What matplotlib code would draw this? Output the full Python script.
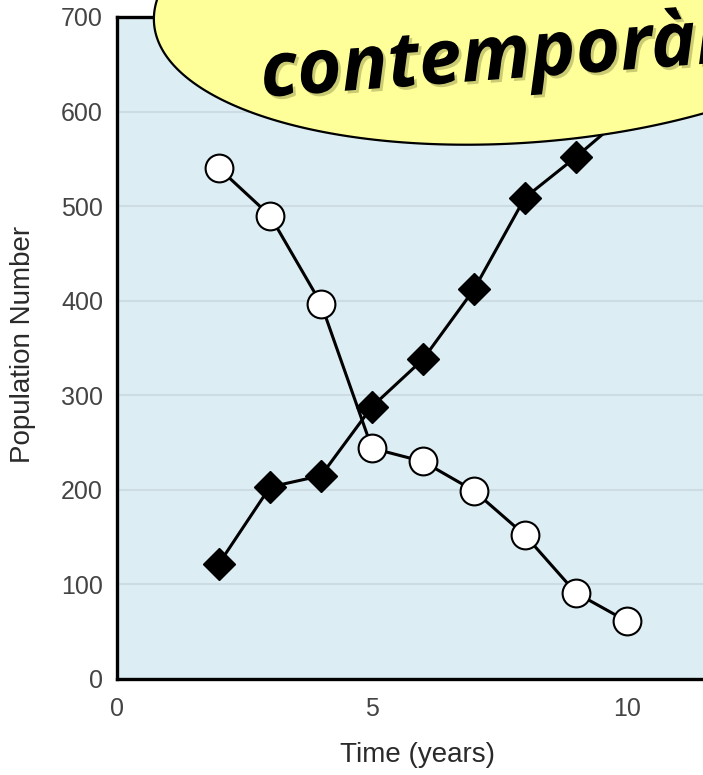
import numpy as np
import matplotlib
matplotlib.use('Agg')
import matplotlib.pyplot as plt
import matplotlib.patheffects as pe
from matplotlib.patches import Polygon

# data
years = [2, 3, 4, 5, 6, 7, 8, 9, 10]
pop_open = [540, 490, 397, 244, 230, 199, 152, 91, 61]
pop_filled = [122, 203, 215, 288, 338, 412, 509, 552, 598]
y_ticks = [0, 100, 200, 300, 400, 500, 600, 700]
x_ticks = [0, 5, 10]
bubble_text = 'contemporània'

W, H = 703, 775
narrow = ['Liberation Sans Narrow', 'Liberation Sans', 'DejaVu Sans']

fig = plt.figure(figsize=(W / 100, H / 100), dpi=100)
fig.patch.set_facecolor('white')

# main axes, right edge runs past the picture like in the reference crop
ax = fig.add_axes([117 / W, (H - 679) / H, 612 / W, 662 / H])
ax.set_facecolor('#dcedf3')
ax.set_xlim(0, 12)
ax.set_ylim(0, 700)

ax.set_yticks(y_ticks)
ax.set_xticks(x_ticks)
ax.tick_params(length=0, labelsize=18, labelcolor='#444444')
ax.tick_params(axis='y', pad=10)
ax.tick_params(axis='x', pad=13)
for lab in ax.get_xticklabels() + ax.get_yticklabels():
    lab.set_family(narrow)

ax.grid(axis='y', color='#cddce2', linewidth=1.5)
ax.set_axisbelow(True)

for side in ['left', 'bottom', 'top']:
    ax.spines[side].set_linewidth(2.4)
    ax.spines[side].set_color('black')
ax.spines['right'].set_visible(False)

ax.plot(years, pop_filled, color='black', linewidth=2.2,
        marker='D', markersize=16, markerfacecolor='black',
        markeredgecolor='black', zorder=3)
ax.plot(years, pop_open, color='black', linewidth=2.2,
        marker='o', markersize=20, markerfacecolor='white',
        markeredgecolor='black', markeredgewidth=1.5, zorder=4)

fig.text(23 / W, 1 - 344 / H, 'Population Number', rotation=90,
         ha='center', va='center', fontsize=20, color='#2a2a2a',
         family=narrow)
fig.text(418 / W, 1 - 755 / H, 'Time (years)', ha='center', va='center',
         fontsize=20, color='#2a2a2a', family=narrow)

# callout bubble (tilted ellipse) drawn on a pixel overlay
over = fig.add_axes([0, 0, 1, 1], zorder=5)
over.set_xlim(0, W)
over.set_ylim(H, 0)
over.axis('off')

tilt = np.deg2rad(4.3)
t = np.linspace(0, 2 * np.pi, 400)
cx, cy, a, b = 525, -4.5, 372, 147
u = a * np.cos(t)
v = b * np.sin(t)
bx = cx + u * np.cos(tilt) + v * np.sin(tilt)
by = cy - u * np.sin(tilt) + v * np.cos(tilt)
over.add_patch(Polygon(np.column_stack([bx, by]), closed=True,
                       facecolor='#ffff99', edgecolor='black',
                       linewidth=1.6))

over.text(262, 97, bubble_text, ha='left', va='baseline', rotation=4.3,
          rotation_mode='anchor', fontsize=55, fontweight='bold',
          fontstyle='italic', family=['Open Sans', 'DejaVu Sans'],
          color='black',
          path_effects=[pe.withSimplePatchShadow(offset=(2, -2),
                                                  shadow_rgbFace='#6b6b30',
                                                  alpha=0.35)])

fig.savefig('out.png', dpi=100)
